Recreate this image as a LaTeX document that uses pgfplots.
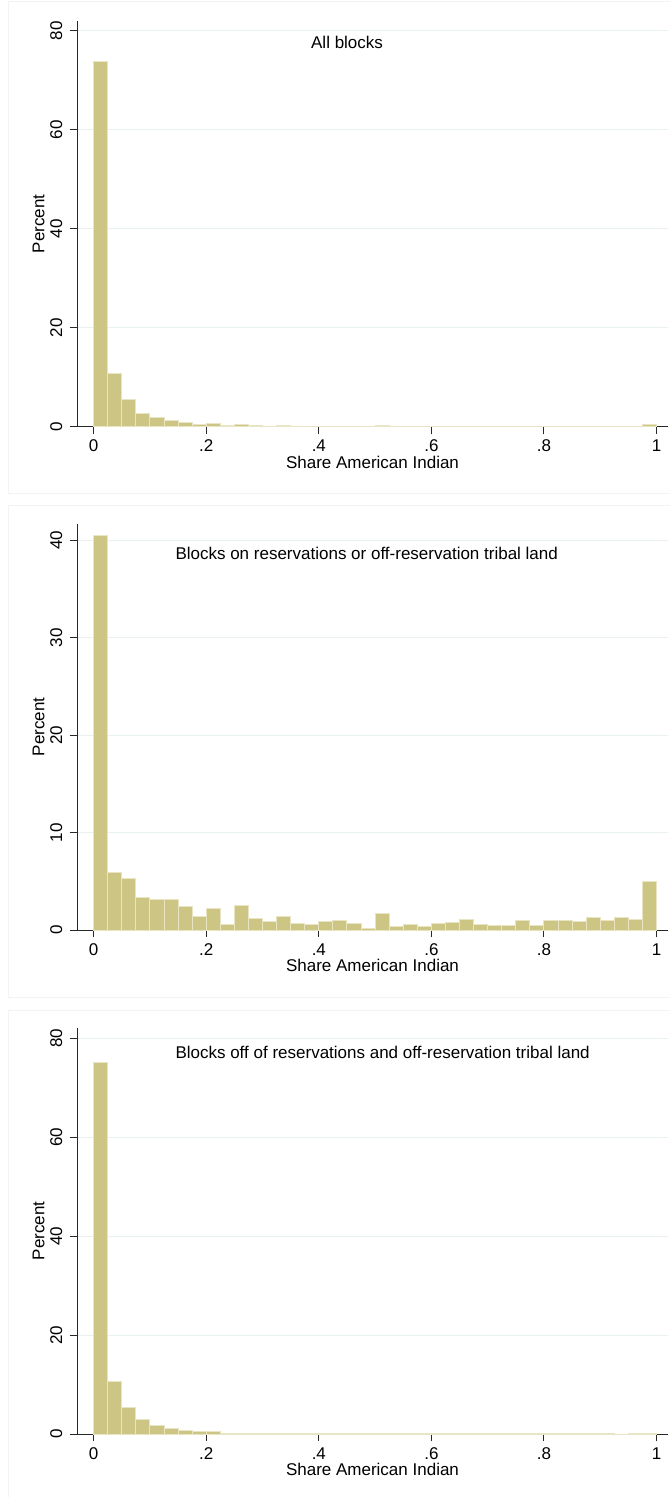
\documentclass[border=0pt]{standalone}
\usepackage{fontspec}
\setmainfont{Liberation Sans}
\usepackage{pgfplots}
\pgfplotsset{compat=1.18}
\usepackage{pgfplotstable}

\definecolor{barfill}{RGB}{204,197,131}
\definecolor{barline}{RGB}{232,228,196}
\definecolor{gridc}{RGB}{232,240,242}
\definecolor{framec}{RGB}{243,243,243}
\definecolor{axisc}{RGB}{40,40,40}

\pgfplotstableread{
x y
0.000 73.8
0.025 10.7
0.050 5.4
0.075 2.75
0.100 1.8
0.125 1.2
0.150 0.8
0.175 0.47
0.200 0.6
0.225 0.2
0.250 0.4
0.275 0.15
0.300 0.08
0.325 0.15
0.350 0.08
0.375 0.06
0.400 0.06
0.425 0.07
0.450 0.06
0.475 0.03
0.500 0.15
0.525 0.05
0.550 0.05
0.575 0.04
0.600 0.05
0.625 0.05
0.650 0.06
0.675 0.04
0.700 0.04
0.725 0.04
0.750 0.05
0.775 0.04
0.800 0.05
0.825 0.05
0.850 0.05
0.875 0.06
0.900 0.05
0.925 0.06
0.950 0.06
0.975 0.40
1.000 0.40
}\tabA

\pgfplotstableread{
x y
0.000 40.5
0.025 5.87
0.050 5.25
0.075 3.31
0.100 3.14
0.125 3.14
0.150 2.42
0.175 1.43
0.200 2.22
0.225 0.61
0.250 2.49
0.275 1.19
0.300 0.92
0.325 1.36
0.350 0.65
0.375 0.55
0.400 0.85
0.425 0.99
0.450 0.65
0.475 0.17
0.500 1.67
0.525 0.38
0.550 0.58
0.575 0.34
0.600 0.65
0.625 0.72
0.650 1.06
0.675 0.61
0.700 0.48
0.725 0.48
0.750 0.96
0.775 0.48
0.800 1.02
0.825 1.02
0.850 0.92
0.875 1.30
0.900 1.02
0.925 1.30
0.950 1.06
0.975 4.95
1.000 4.95
}\tabB

\pgfplotstableread{
x y
0.000 75.1
0.025 10.7
0.050 5.45
0.075 2.85
0.100 1.75
0.125 1.2
0.150 0.8
0.175 0.45
0.200 0.45
0.225 0.2
0.250 0.2
0.275 0.1
0.300 0.06
0.325 0.1
0.350 0.05
0.375 0.04
0.400 0.03
0.425 0.03
0.450 0.03
0.475 0.02
0.500 0.03
0.525 0.02
0.550 0.02
0.575 0.02
0.600 0.02
0.625 0.02
0.650 0.02
0.675 0.02
0.700 0.02
0.725 0.02
0.750 0.02
0.775 0.02
0.800 0.02
0.825 0.02
0.850 0.02
0.875 0.02
0.900 0.02
0.925 0.00
0.950 0.02
0.975 0.02
1.000 0.02
}\tabC

\pgfplotsset{
  panel/.style={
    scale only axis, width=591bp, height=406bp,
    axis lines=left,
    axis line style={axisc, line width=1bp, -},
    xmin=-0.0297, xmax=1.0204, ymin=0,
    xtick={0,0.2,0.4,0.6,0.8,1},
    xticklabels={0,.2,.4,.6,.8,1},
    tick align=outside,
    major tick length=7.3bp,
    tick style={axisc, line width=1bp},
    ymajorgrids,
    grid style={gridc, line width=1bp},
    yticklabel style={rotate=90, anchor=south, inner ysep=7.1bp},
    xticklabel style={anchor=north, inner ysep=5.9bp},
    xlabel={Share American Indian},
    ylabel={Percent},
    xlabel style={at={(axis description cs:0.5,-0.1025)}, anchor=base},
    ylabel style={at={(axis description cs:-0.0552,0.5)}, anchor=base},
    /pgf/number format/assume math mode=true,
  },
  histbar/.style={ybar interval, fill=barfill, draw=barline, line width=1bp},
}

\begin{document}
\begin{tikzpicture}[font=\fontsize{17bp}{20bp}\selectfont]
\path[use as bounding box] (0,0) rectangle (670bp,-1497bp);
\draw[framec, line width=1bp] (8.5bp,-1.5bp) rectangle (690bp,-493bp);
\draw[framec, line width=1bp] (8.5bp,-505bp) rectangle (690bp,-997bp);
\draw[framec, line width=1bp] (8.5bp,-1010bp) rectangle (690bp,-1510bp);

\begin{axis}[panel, at={(77bp,-426.7bp)}, anchor=south west,
  ymax=82.0, ytick={0,20,40,60,80}]
\addplot[histbar] table[x=x, y=y] {\tabA};
\node[anchor=west, inner sep=0pt] at (axis cs:0.386,77.6) {All blocks};
\end{axis}

\begin{axis}[panel, at={(77bp,-930bp)}, anchor=south west,
  ymax=41.66, ytick={0,10,20,30,40}]
\addplot[histbar] table[x=x, y=y] {\tabB};
\node[anchor=west, inner sep=0pt] at (axis cs:0.145,38.6) {Blocks on reservations or off-reservation tribal land};
\end{axis}

\begin{axis}[panel, at={(77bp,-1434bp)}, anchor=south west,
  ymax=82.1, ytick={0,20,40,60,80}]
\addplot[histbar] table[x=x, y=y] {\tabC};
\node[anchor=west, inner sep=0pt] at (axis cs:0.145,77.1) {Blocks off of reservations and off-reservation tribal land};
\end{axis}
\end{tikzpicture}
\end{document}
